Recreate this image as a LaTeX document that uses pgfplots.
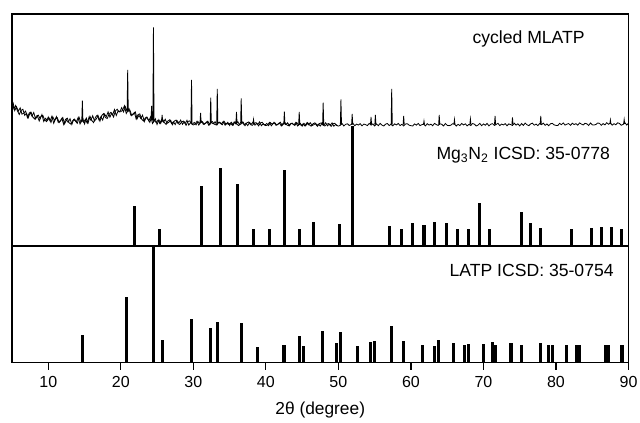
\documentclass[border=0pt]{standalone}
\usepackage{fontspec}
\setmainfont{Liberation Sans}
\usepackage{pgfplots}
\pgfplotsset{compat=1.18}
\begin{document}
\begin{tikzpicture}[font=\fontsize{13.2}{15}\selectfont]
% ---------------- lower panel: LATP reference ----------------
\begin{axis}[name=lower, at={(0,0)}, anchor=south west, scale only axis,
  width=462.4pt, height=87.5pt,
  xmin=5, xmax=90, ymin=0, ymax=116.7,
  ytick=\empty, xtick={10,20,...,90}, xtick pos=left, tick align=outside,
  major tick length=5.25pt, tick style={line width=0.9pt, black},
  axis line style={line width=1pt},
  ticklabel style={font=\fontsize{12}{14}\selectfont, yshift=-1.5pt},
  /pgf/number format/assume math mode=true,
  xlabel={2θ (degree)}, xlabel style={font=\fontsize{13}{15}\selectfont, yshift=-4pt}]
\addplot[ycomb, black, line width=2.3pt] coordinates {
(14.7,27.7) (20.8,65.4) (24.5,116.7) (25.7,23) (29.7,43.4) (32.4,35) (33.3,41)
(36.6,40) (38.8,15.7) (42.5,17.7) (44.6,27) (45.2,17) (47.8,32) (49.7,20)
(50.3,31) (52.6,16.7) (54.4,21) (55.0,22) (57.3,37) (59.0,22) (61.6,18)
(63.2,16.7) (63.8,23) (65.9,20) (67.4,18) (68.0,18.7) (70.0,18.7) (71.3,21)
(71.6,18) (73.8,19.5) (75.3,17.7) (77.8,20) (79.0,17.5) (79.5,17.5) (81.5,17.5)
(82.8,17.7) (83.3,17.7) (86.8,17.5) (87.3,17.5) (89.1,18)};
\node[anchor=base east] at (axis cs:88.6,86) {LATP ICSD: 35-0754};
\end{axis}
% ---------------- upper panel: pattern + Mg3N2 reference ----------------
\begin{axis}[name=upper, at={(0,87.5pt)}, anchor=south west, scale only axis,
  width=462.4pt, height=174pt,
  xmin=5, xmax=90, ymin=0, ymax=232,
  xtick=\empty, ytick=\empty, axis line style={line width=1pt}]
\addplot[ycomb, black, line width=2.3pt] coordinates {
(21.9,40) (25.3,17) (31.1,60) (33.7,77.7) (36.1,61.7) (38.3,17) (40.5,17)
(42.6,76) (44.6,17) (46.6,23.7) (50.2,21.7) (51.9,120) (57.0,20) (58.7,17)
(60.2,23) (61.8,20.7) (63.3,24) (64.9,23) (66.4,17) (67.9,17) (69.4,42.7)
(70.8,17) (75.2,33.7) (76.5,22.7) (77.9,17.7) (82.2,17) (84.9,18.3)
(86.3,18.7) (87.7,18.7) (89.0,17)};
% measured pattern (baseline with noise)
\addplot[black, line width=0.6pt, sharp plot] coordinates {
(5,146) (5.25,137.2) (5.5,140.5) (5.75,135) (6,131.5) (6.25,135.6) (6.5,136.7)
(6.75,130.7) (7,132.7) (7.25,128.3) (7.5,133.5) (7.75,129.8) (8,133.5) (8.25,127)
(8.5,130) (8.75,125) (9,129.8) (9.25,130.6) (9.5,126.1) (9.75,124.4) (10,129)
(10.25,125.0) (10.5,129.7) (10.75,122.7) (11,127.1) (11.25,128.3) (11.5,123.4)
(11.75,125.6) (12,128.5) (12.25,122.1) (12.5,126.1) (12.75,123.6) (13,127.3)
(13.25,121.5) (13.5,126.5) (13.75,124.9) (14,122.6) (14.25,128.6) (14.5,123.9)
(14.75,127.5) (15,122) (15.25,127.8) (15.5,123.2) (15.75,129.7) (16,125.5)
(16.25,123.4) (16.5,128.6) (16.75,130.8) (17,125.9) (17.25,129.2) (17.5,125.9)
(17.75,132) (18,129.3) (18.25,134.1) (18.5,128.8) (18.75,132.9) (19,129)
(19.25,135) (19.5,136.8) (19.75,134.1) (20,134.2)
(20.25,135.8) (20.5,140.2) (20.75,132.5) (21,135.6) (21.25,136) (21.5,130.4)
(21.75,131.9) (22,134) (22.25,127.2) (22.5,130.7) (22.75,127.6) (23,130.8)
(23.25,124.4) (23.5,128.8) (23.75,126.5) (24,123.6) (24.25,129.3) (24.5,124.1)
(24.75,127.3) (25,121.5)
(25.25,126.3) (25.5,122.6) (25.75,126.9) (26,123.5) (26.25,121.6) (26.5,125)
(26.75,126.2) (27,122.3) (27.25,124.2) (27.5,121.4) (27.75,125.4) (28,123)
(28.25,125.9) (28.5,121.7) (28.75,124.1) (29,120.7) (29.25,124.5) (29.5,125.1)
(29.75,122.1) (30,121)
(30.25,122) (30.5,124.7) (30.75,120.9) (31,123.5) (31.25,124.3) (31.5,121.7)
(31.75,123) (32,124.8) (32.25,121.2) (32.5,123.5) (32.75,122.1) (33,124.3)
(33.25,120.9) (33.5,123.6) (33.75,122.6) (34,121.2) (34.25,124.6) (34.5,121.8)
(34.75,123.7) (35,120.5)
(35.25,123.7) (35.5,120.9) (35.75,124.4) (36,121.8) (36.25,120.4) (36.5,123.2)
(36.75,124.1) (37,121.1) (37.25,122.7) (37.5,120.4) (37.75,123.6) (38,121.8)
(38.25,124.2) (38.5,120.8) (38.75,122.7) (39,120.1) (39.25,123.1) (39.5,123.7)
(39.75,121.2) (40,120.4)
(40.25,121.1) (40.5,123.6) (40.75,120.2) (41,122.4) (41.25,123.2) (41.5,120.8)
(41.75,122.1) (42,123.7) (42.25,120.5) (42.5,122.6) (42.75,121.3) (43,123.2)
(43.25,120.2) (43.5,122.7) (43.75,121.8) (44,120.5) (44.25,123.5) (44.5,121)
(44.75,122.7) (45,119.8)
(45.25,122.7) (45.5,120.2) (45.75,123.4) (46,121.1) (46.25,119.8) (46.5,122.2)
(46.75,123.1) (47,120.4) (47.25,121.9) (47.5,119.9) (47.75,122.8) (48,121.1)
(48.25,123.2) (48.5,120.1) (48.75,121.9) (49,119.6) (49.25,122.2) (49.5,122.7)
(49.75,120.6) (50,119.9)
(50.25,120.65) (50.5,122.5) (50.75,120) (51,121.7) (51.25,122.2) (51.5,120.5)
(51.75,121.4) (52,122.6) (52.25,120.3) (52.5,121.8) (52.75,120.9) (53,122.3)
(53.25,120.1) (53.5,121.95) (53.75,121.3) (54,120.4) (54.25,122.6) (54.5,120.8)
(54.75,122.1) (55,120)
(55.25,122.1) (55.5,120.3) (55.75,122.6) (56,120.9) (56.25,120) (56.5,121.8)
(56.75,122.5) (57,120.5) (57.25,121.6) (57.5,120.1) (57.75,122.2) (58,121)
(58.25,122.6) (58.5,120.4) (58.75,121.7) (59,120) (59.25,121.95) (59.5,122.3)
(59.75,120.8) (60,120.3)
(60.25,120) (60.5,122.1) (60.75,120.8) (61,122.6) (61.25,120.4) (61.5,121.3)
(61.75,121.95) (62,120.1) (62.25,122.3) (62.5,120.9) (62.75,121.8) (63,120.3)
(63.25,122.6) (63.5,121.4) (63.75,120.5) (64,122.2) (64.25,121.7) (64.5,120)
(64.75,122.5) (65,120.65)
(65.25,120.3) (65.5,120.8) (65.75,122.3) (66,121.95) (66.25,120) (66.5,121.7)
(66.75,120.4) (67,122.6) (67.25,121) (67.5,122.2) (67.75,120.1) (68,121.6)
(68.25,120.5) (68.5,122.5) (68.75,121.8) (69,120) (69.25,120.9) (69.5,122.6)
(69.75,120.3) (70,122.1)
(70.25,120.75) (70.5,122.6) (70.75,120.1) (71,121.8) (71.25,122.3) (71.5,120.6)
(71.75,121.5) (72,122.7) (72.25,120.4) (72.5,121.9) (72.75,121) (73,122.4)
(73.25,120.2) (73.5,122.05) (73.75,121.4) (74,120.5) (74.25,122.7) (74.5,120.9)
(74.75,122.2) (75,120.1)
(75.25,122.4) (75.5,120.6) (75.75,122.9) (76,121.2) (76.25,120.3) (76.5,122.1)
(76.75,122.8) (77,120.8) (77.25,121.9) (77.5,120.4) (77.75,122.5) (78,121.3)
(78.25,122.9) (78.5,120.7) (78.75,122) (79,120.3) (79.25,122.25) (79.5,122.6)
(79.75,121.1) (80,120.6)
(80.25,120.5) (80.5,122.6) (80.75,121.3) (81,123.1) (81.25,120.9) (81.5,121.8)
(81.75,122.45) (82,120.6) (82.25,122.8) (82.5,121.4) (82.75,122.3) (83,120.8)
(83.25,123.1) (83.5,121.9) (83.75,121) (84,122.7) (84.25,122.2) (84.5,120.5)
(84.75,123) (85,121.15)
(85.25,121) (85.5,121.5) (85.75,123) (86,122.65) (86.25,120.7) (86.5,122.4)
(86.75,121.1) (87,123.3) (87.25,121.7) (87.5,122.9) (87.75,120.8) (88,122.3)
(88.25,121.2) (88.5,123.2) (88.75,122.5) (89,120.7) (89.25,121.6) (89.5,123.3)
(89.75,121) (90,122.8)};
% measured pattern: interleaved noise samples (denser band at low angles)
\addplot[black, line width=0.6pt, sharp plot] coordinates {
(5.125,144.1) (5.375,135.4) (5.625,139.3) (5.875,134.8) (6.125,138.1) (6.375,131.8)
(6.625,132.8) (6.875,134.9) (7.125,128.3) (7.375,133) (7.625,133.9) (7.875,128.9)
(8.125,127) (8.375,130) (8.625,130.9) (8.875,127.2) (9.125,131.4) (9.375,124.5)
(9.625,127.7) (9.875,125.4)
(10.125,127.9) (10.375,123.5) (10.625,129.2) (10.875,125.4) (11.125,129.4) (11.375,123.6)
(11.625,125) (11.875,127.6) (12.125,121.5) (12.375,126.6) (12.625,127.8) (12.875,123.2)
(13.125,121.8) (13.375,125.4) (13.625,126.9) (13.875,123.9) (14.125,128.6) (14.375,122.1)
(14.625,125.7) (14.875,123.7)
(15.125,126.7) (15.375,122.7) (15.625,128.9) (15.875,125.7) (16.125,130.2) (16.375,125)
(16.625,127.1) (16.875,130.3) (17.125,124.8) (17.375,130.5) (17.625,132.4) (17.875,128.4)
(18.125,127.5) (18.375,131.6) (18.625,133.6) (18.875,131.1) (19.125,136.4) (19.375,130.5)
(19.625,135.1) (19.875,134.5)
(20.125,138.3) (20.375,134.1) (20.625,139.3) (20.875,134.6) (21.125,137.5) (21.375,130.9)
(21.625,131.7) (21.875,133.5) (22.125,126.8) (22.375,131.4) (22.625,132.1) (22.875,126.9)
(23.125,125) (23.375,128) (23.625,128.9) (23.875,125.2) (24.125,129.4) (24.375,122.5)
(24.625,125.7) (24.875,123.4)
(25.125,125.7) (25.375,122.5) (25.625,126.5) (25.875,123.8) (26.125,126.7) (26.375,122.6)
(26.625,123.7) (26.875,125.6) (27.125,121.3) (27.375,124.9) (27.625,125.9) (27.875,122.6)
(28.125,121.5) (28.375,123.9) (28.625,124.9) (28.875,122.5) (29.125,125.7) (29.375,120.9)
(29.625,123.4) (29.875,121.8)
(30.125,123.6) (30.375,121.2) (30.625,124.5) (30.875,122.5) (31.125,124.9) (31.375,121.7)
(31.625,122.6) (31.875,124.2) (32.125,120.8) (32.375,123.8) (32.625,124.5) (32.875,121.9)
(33.125,121.1) (33.375,123.1) (33.625,123.8) (33.875,122) (34.125,124.6) (34.375,120.8)
(34.625,122.7) (34.875,121.5)
(35.125,123.1) (35.375,120.7) (35.625,124) (35.875,122) (36.125,124.4) (36.375,121.2)
(36.625,122.2) (36.875,123.8) (37.125,120.3) (37.375,123.2) (37.625,124) (37.875,121.4)
(38.125,120.6) (38.375,122.6) (38.625,123.3) (38.875,121.5) (39.125,124.1) (39.375,120.3)
(39.625,122.2) (39.875,121)
(40.125,122.5) (40.375,120.4) (40.625,123.4) (40.875,121.6) (41.125,123.7) (41.375,120.8)
(41.625,121.7) (41.875,123.1) (42.125,120) (42.375,122.7) (42.625,123.4) (42.875,121.1)
(43.125,120.3) (43.375,122.1) (43.625,122.8) (43.875,121.1) (44.125,123.5) (44.375,120)
(44.625,121.8) (44.875,120.7)
(45.125,122.1) (45.375,120) (45.625,123) (45.875,121.2) (46.125,123.3) (46.375,120.4)
(46.625,121.3) (46.875,122.7) (47.125,119.7) (47.375,122.4) (47.625,123.1) (47.875,120.8)
(48.125,120) (48.375,121.7) (48.625,122.4) (48.875,120.8) (49.125,123.1) (49.375,119.7)
(49.625,121.5) (49.875,120.4)};
% measured pattern: diffraction peaks
\addplot[black, line width=0.6pt, sharp plot, unbounded coords=jump] coordinates {
(14.62,125) (14.7,145.3) (14.78,125) (14.7,nan)
(20.87,135) (20.95,176) (21.03,134) (20.95,nan)
(24.17,126) (24.25,140) (24.33,126) (24.25,nan)
(24.42,125.5) (24.5,218.7) (24.58,125) (24.5,nan)
(25.62,125) (25.7,131) (25.78,124.5) (25.7,nan)
(29.67,123) (29.75,166) (29.83,123) (29.75,nan)
(30.92,123) (31.0,133) (31.08,123) (31.0,nan)
(32.32,123) (32.4,148.3) (32.48,123) (32.4,nan)
(33.22,123) (33.3,157) (33.38,123) (33.3,nan)
(35.87,122.5) (35.95,134) (36.03,122.5) (35.95,nan)
(36.52,122.5) (36.6,147.7) (36.68,122.5) (36.6,nan)
(38.22,122) (38.3,126.5) (38.38,122) (38.3,nan)
(42.47,122) (42.55,134.3) (42.63,122) (42.55,nan)
(44.52,121.8) (44.6,134) (44.68,121.8) (44.6,nan)
(47.82,121.5) (47.9,143.3) (47.98,121.5) (47.9,nan)
(50.27,121.3) (50.35,146.7) (50.43,121.3) (50.35,nan)
(51.82,121.3) (51.9,132) (51.98,121.3) (51.9,nan)
(54.42,121.3) (54.5,129) (54.58,121.3) (54.5,nan)
(55.02,121.3) (55.1,131) (55.18,121.3) (55.1,nan)
(57.27,121.3) (57.35,157) (57.43,121.3) (57.35,nan)
(58.92,121.3) (59.0,130) (59.08,121.3) (59.0,nan)
(61.72,121.3) (61.8,125) (61.88,121.3) (61.8,nan)
(63.82,121.3) (63.9,131) (63.98,121.3) (63.9,nan)
(65.92,121.3) (66.0,126.5) (66.08,121.3) (66.0,nan)
(68.12,121.3) (68.2,127) (68.28,121.3) (68.2,nan)
(71.52,121.4) (71.6,130) (71.68,121.4) (71.6,nan)
(73.92,121.5) (74.0,128.5) (74.08,121.5) (74.0,nan)
(77.82,121.6) (77.9,130) (77.98,121.6) (77.9,nan)
(87.42,122) (87.5,126) (87.58,122) (87.5,nan)
(89.32,122) (89.4,126.5) (89.48,122)};
\node[anchor=base east] at (axis cs:84.6,202.7) {cycled MLATP};
\node[anchor=base east] at (axis cs:88.1,86.7) {Mg\textsubscript{3}N\textsubscript{2} ICSD: 35-0778};
\end{axis}
\pgfresetboundingbox
\useasboundingbox (-9pt,-45.2pt) rectangle (471pt,272pt);
\end{tikzpicture}
\end{document}
